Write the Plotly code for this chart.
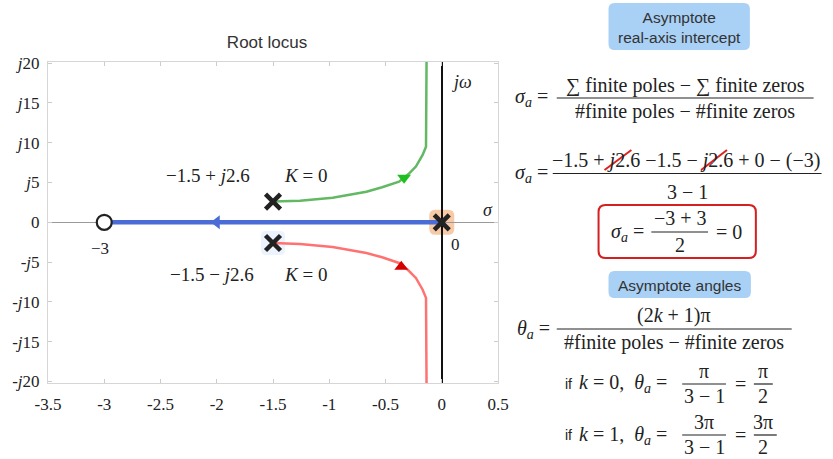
import plotly.graph_objects as go

# ---------------- data ----------------
zero_re = [-3.0]
zero_im = [0.0]
pole_re = [-1.5, -1.5, 0.0]
pole_im = [2.6, -2.6, 0.0]

real_branch_re = [-3.0, 0.0]
real_branch_im = [0.0, 0.0]

upper_re = [-1.5, -1.26, -0.97, -0.67, -0.53, -0.38, -0.30, -0.23, -0.17, -0.14, -0.135]
upper_im = [2.6, 2.72, 3.1, 3.85, 4.4, 5.11, 6.0, 7.0, 8.47, 9.5, 20.5]
lower_re = [-1.5, -1.26, -0.97, -0.67, -0.53, -0.38, -0.30, -0.23, -0.17, -0.14, -0.135]
lower_im = [-2.6, -2.72, -3.1, -3.85, -4.4, -5.11, -6.0, -7.0, -8.47, -9.5, -20.5]

arrow_blue = ([-2.0], [0.0])
arrow_green = ([-0.335], [5.6])
arrow_red = ([-0.36], [-5.6])

x_ticks = [-3.5, -3, -2.5, -2, -1.5, -1, -0.5, 0, 0.5]
x_ticktext = ["-3.5", "-3", "-2.5", "-2", "-1.5", "-1", "-0.5", "0", "0.5"]
y_ticks = [20, 15, 10, 5, 0, -5, -10, -15, -20]
y_ticktext = ["<i>j</i>20", "<i>j</i>15", "<i>j</i>10", "<i>j</i>5", "0",
              "-<i>j</i>5", "-<i>j</i>10", "-<i>j</i>15", "-<i>j</i>20"]

# ---------------- layout helpers ----------------
W, H = 833, 459
L, R, T, B = 46, 335, 62, 76
PW = W - L - R
PH = H - T - B
SERIF = "Liberation Serif, Times New Roman, serif"
SANS = "Liberation Sans, Arial, sans-serif"
INK = "#222222"
MATH = 20


def px(x):
    return (x - L) / PW


def py(y):
    return (H - B - y) / PH


annotations = []
shapes = []


def txt(x, y, s, size=MATH, xanchor="center", family=SERIF, color=INK):
    annotations.append(dict(x=px(x), y=py(y), xref="paper", yref="paper", text=s,
                            showarrow=False, xanchor=xanchor, yanchor="middle",
                            font=dict(family=family, size=size, color=color)))


def bar(x0, x1, y, color=INK, w=1.2):
    shapes.append(dict(type="line", xref="paper", yref="paper", x0=px(x0), x1=px(x1),
                       y0=py(y), y1=py(y), line=dict(color=color, width=w)))


def seg(x0, y0, x1, y1, color, w):
    shapes.append(dict(type="line", xref="paper", yref="paper", x0=px(x0), x1=px(x1),
                       y0=py(y0), y1=py(y1), line=dict(color=color, width=w)))


def rbox(x0, y0, x1, y1, r, fill=None, line=None, lw=0):
    a0, a1 = px(x0), px(x1)
    b0, b1 = py(y1), py(y0)  # bottom, top in paper
    rx, ry = r / PW, r / PH
    path = (f"M{a0+rx},{b0} L{a1-rx},{b0} Q{a1},{b0} {a1},{b0+ry} L{a1},{b1-ry} "
            f"Q{a1},{b1} {a1-rx},{b1} L{a0+rx},{b1} Q{a0},{b1} {a0},{b1-ry} "
            f"L{a0},{b0+ry} Q{a0},{b0} {a0+rx},{b0} Z")
    shapes.append(dict(type="path", xref="paper", yref="paper", path=path,
                       fillcolor=fill if fill else "rgba(0,0,0,0)",
                       line=dict(color=line if line else "rgba(0,0,0,0)", width=lw)))


def pixel_box(xa, ya, w, h, r, fill):
    hw, hh = w / 2, h / 2
    path = (f"M{-hw+r},{-hh} L{hw-r},{-hh} Q{hw},{-hh} {hw},{-hh+r} L{hw},{hh-r} "
            f"Q{hw},{hh} {hw-r},{hh} L{-hw+r},{hh} Q{-hw},{hh} {-hw},{hh-r} "
            f"L{-hw},{-hh+r} Q{-hw},{-hh} {-hw+r},{-hh} Z")
    shapes.append(dict(type="path", xref="x", yref="y", xsizemode="pixel", ysizemode="pixel",
                       xanchor=xa, yanchor=ya, path=path, fillcolor=fill,
                       line=dict(width=0), layer="below"))


# ---------------- traces ----------------
fig = go.Figure()

BLUE = "#4a6cd4"
fig.add_trace(go.Scatter(x=real_branch_re, y=real_branch_im, mode="lines",
                         line=dict(color=BLUE, width=4.5), hoverinfo="skip"))
fig.add_trace(go.Scatter(x=upper_re, y=upper_im, mode="lines",
                         line=dict(color="#63b863", width=2.5), hoverinfo="skip"))
fig.add_trace(go.Scatter(x=lower_re, y=lower_im, mode="lines",
                         line=dict(color="#ff7272", width=2.5), hoverinfo="skip"))
fig.add_trace(go.Scatter(x=arrow_blue[0], y=arrow_blue[1], mode="markers",
                         marker=dict(symbol="triangle-left", size=12, color=BLUE)))
fig.add_trace(go.Scatter(x=arrow_green[0], y=arrow_green[1], mode="markers",
                         marker=dict(symbol="triangle-down", size=12, color="#1fbf1f")))
fig.add_trace(go.Scatter(x=arrow_red[0], y=arrow_red[1], mode="markers",
                         marker=dict(symbol="triangle-up", size=12, color="#d40000")))
fig.add_trace(go.Scatter(x=zero_re, y=zero_im, mode="markers",
                         marker=dict(symbol="circle", size=15, color="white",
                                     line=dict(color=INK, width=2.2))))
fig.add_trace(go.Scatter(x=pole_re, y=pole_im, mode="markers",
                         marker=dict(symbol="x-thin", size=15, color=INK,
                                     line=dict(color=INK, width=4.5))))

# pole highlights
pixel_box(pole_re[2], pole_im[2], 25, 25, 6, "rgba(240,150,80,0.5)")
pixel_box(pole_re[1], pole_im[1], 24, 24, 5, "rgba(200,220,245,0.35)")

# ---------------- in-plot labels ----------------
txt(207, 175, "−1.5 + <i>j</i>2.6", 19)
txt(305, 175, "<i>K</i> = 0", 19)
txt(211, 274, "−1.5 − <i>j</i>2.6", 19)
txt(305, 274, "<i>K</i> = 0", 19)
txt(98, 248, "−3", 17)
txt(455, 245, "0", 17)
txt(488, 210, "<i>σ</i>", 18)
txt(462, 82, "<i>jω</i>", 18)

# ---------------- right-hand derivation ----------------
SIG = "<i>σ</i><sub><i>a</i></sub> ="
THE = "<i>θ</i><sub><i>a</i></sub> ="

rbox(609, 3, 751, 50, 6, fill="#a9d0f5")
txt(680, 27, "Asymptote<br>real-axis intercept", 15.5, family=SANS, color="#333333")

txt(550, 97, SIG, xanchor="right")
txt(686, 85, "∑ finite poles − ∑ finite zeros")
bar(557, 815, 98)
txt(686, 111, "#finite poles − #finite zeros")

txt(550, 173, SIG, xanchor="right")
txt(687, 160, "−1.5 + <i>j</i>2.6 −1.5 − <i>j</i>2.6 + 0 − (−3)")
bar(553, 823, 173.5)
txt(688, 192, "3 − 1")
seg(605, 170, 632, 150, "#dd2222", 2)
seg(702, 170, 728, 150, "#dd2222", 2)

rbox(599, 205, 757, 258, 7, line="#d42020", lw=2)
txt(647, 232, SIG, xanchor="right")
txt(681, 218, "−3 + 3")
bar(652, 709, 232)
txt(681, 245, "2")
txt(715, 232, "= 0", xanchor="left")

rbox(609, 271, 752, 298, 6, fill="#a9d0f5")
txt(680, 285, "Asymptote angles", 15.5, family=SANS, color="#333333")

txt(552, 329, THE, xanchor="right")
txt(675, 315, "(2<i>k</i> + 1)π")
bar(557, 793, 329)
txt(675, 342, "#finite poles − #finite zeros")

for yc, kval, num1 in [(384, "0", "π"), (435, "1", "3π")]:
    txt(569, yc, "if", 14, family=SANS)
    txt(577, yc, f"<i>k</i> = {kval},  {THE}", xanchor="left")
    txt(705, yc - 13, num1)
    bar(683, 727, yc)
    txt(705, yc + 12, "3 − 1")
    txt(742, yc, "=")
    txt(764, yc - 13, num1)
    bar(755, 774 if kval == "0" else 778, yc)
    txt(764, yc + 12, "2")

# ---------------- layout ----------------
fig.update_layout(
    width=W, height=H,
    margin=dict(l=L, r=R, t=T, b=B),
    paper_bgcolor="white", plot_bgcolor="white",
    showlegend=False,
    title=dict(text="Root locus", x=(266 - L) / PW, xref="paper", xanchor="center",
               y=1 - 42 / H, yref="container", yanchor="middle",
               font=dict(family=SANS, size=17, color="#333333")),
    xaxis=dict(range=[-3.5, 0.5], tickvals=x_ticks, ticktext=x_ticktext,
               showgrid=False, zeroline=True, zerolinecolor="#111111", zerolinewidth=2,
               showline=True, linecolor="#d6d6d6", linewidth=1, mirror="ticks",
               ticks="inside", ticklen=4, tickcolor="#cccccc", ticklabelstandoff=6,
               tickfont=dict(family=SERIF, size=17, color=INK), fixedrange=True),
    yaxis=dict(range=[-20.2, 20.15], tickvals=y_ticks, ticktext=y_ticktext,
               showgrid=False, zeroline=True, zerolinecolor="#9a9a9a", zerolinewidth=1,
               showline=True, linecolor="#d6d6d6", linewidth=1, mirror="ticks",
               ticks="inside", ticklen=4, tickcolor="#cccccc", ticklabelstandoff=4,
               tickfont=dict(family=SERIF, size=17, color=INK), fixedrange=True),
    annotations=annotations,
    shapes=shapes,
)

fig.write_html("out.html")
